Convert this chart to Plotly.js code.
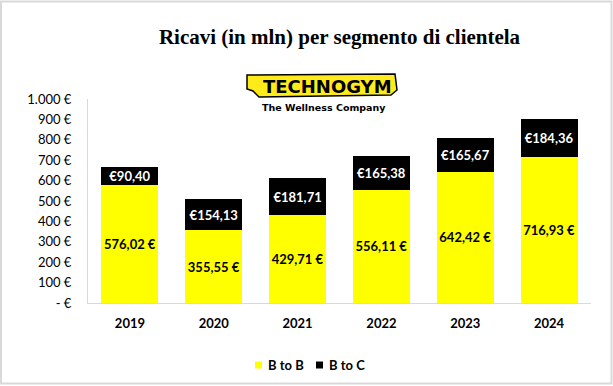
<!DOCTYPE html>
<html>
<head>
<meta charset="utf-8">
<script src="https://cdn.plot.ly/plotly-3.0.1.min.js"></script>
<style>
html,body{margin:0;padding:0;background:#fff;}
#chart{width:613px;height:386px;}
</style>
</head>
<body>
<div id="chart"></div>
<script>
const years = ['2019','2020','2021','2022','2023','2024'];
const btobValues = [576.02, 355.55, 429.71, 556.11, 642.42, 716.93];
const btocValues = [90.40, 154.13, 181.71, 165.38, 165.67, 184.36];
const btobLabels = ['576,02 €','355,55 €','429,71 €','556,11 €','642,42 €','716,93 €'];
const btocLabels = ['€90,40','€154,13','€181,71','€165,38','€165,67','€184,36'];
const seriesNames = ['B to B','B to C'];
const seriesColors = ['#FFFF00','#000000'];
const yTickVals = [0,100,200,300,400,500,600,700,800,900,1000];
const yTickText = ['- €','100 €','200 €','300 €','400 €','500 €','600 €','700 €','800 €','900 €','1.000 €'];

const FONT = 'Lato, "Open Sans", sans-serif';
const L = 88, R = 22, T = 99, B = 83, W = 613, H = 386;
const pw = W - L - R, ph = H - T - B;
const px = x => (x - L) / pw;
const py = y => (H - B - y) / ph;

const traces = [
  {type:'bar', name:seriesNames[0], x:years, y:btobValues, text:btobLabels,
   marker:{color:seriesColors[0]}, textposition:'inside', insidetextanchor:'middle',
   constraintext:'none', textangle:0,
   textfont:{family:FONT, size:13, color:'#000', weight:'bold'}, hoverinfo:'skip'},
  {type:'bar', name:seriesNames[1], x:years, y:btocValues, text:btocLabels,
   marker:{color:seriesColors[1]}, textposition:'inside', insidetextanchor:'middle',
   constraintext:'none', textangle:0,
   textfont:{family:FONT, size:13, color:'#fff', weight:'bold'}, hoverinfo:'skip'}
];

const logoPath = 'M ' + px(247) + ',' + py(75) +
  ' L ' + px(395) + ',' + py(74) +
  ' L ' + px(397) + ',' + py(90) +
  ' L ' + px(391) + ',' + py(95) +
  ' L ' + px(259) + ',' + py(97) +
  ' L ' + px(253) + ',' + py(91) +
  ' L ' + px(247) + ',' + py(89) + ' Z';

// manual legend (Excel-style compact spacing)
const legendX = [255, 316];
const legendY = 365;
const legendShapes = seriesNames.map((n, i) => ({
  type:'rect', xref:'paper', yref:'paper',
  x0:px(legendX[i]), x1:px(legendX[i] + 7), y0:py(legendY + 3.5), y1:py(legendY - 3.5),
  fillcolor:seriesColors[i], line:{width:0}
}));
const legendAnns = seriesNames.map((n, i) => ({
  text:n, xref:'paper', yref:'paper', x:px(legendX[i] + 11), y:py(legendY),
  xanchor:'left', yanchor:'middle', showarrow:false,
  font:{family:FONT, size:13, color:'#000', weight:'bold'}
}));

const layout = {
  width: W, height: H,
  margin: {l:L, r:R, t:T, b:B, pad:0},
  paper_bgcolor:'#fff', plot_bgcolor:'#fff',
  barmode:'stack', bargap:0.32,
  showlegend:false,
  title:{text:'Ricavi (in mln) per segmento di clientela',
    font:{family:'"Liberation Serif", "DejaVu Serif", serif', size:21, color:'#000', weight:'bold'},
    xref:'paper', x:0.5, xanchor:'center', yref:'container', y:1-37/H, yanchor:'middle'},
  xaxis:{type:'category', showline:true, linecolor:'#d9d9d9', linewidth:1,
    showgrid:false, zeroline:false, ticks:'', ticklabelstandoff:8,
    tickfont:{family:FONT, size:13, color:'#000', weight:'bold'}, fixedrange:true},
  yaxis:{range:[0,1000], tickvals:yTickVals, ticktext:yTickText,
    showline:true, linecolor:'#d9d9d9', linewidth:1,
    showgrid:false, zeroline:false, ticks:'', ticklabelstandoff:13,
    tickfont:{family:FONT, size:13, color:'#000'}, fixedrange:true},
  shapes:[
    {type:'rect', xref:'paper', yref:'paper', x0:px(1), x1:px(611.5), y0:py(383.5), y1:py(1.5),
     line:{color:'#d9d9d9', width:2}, fillcolor:'rgba(0,0,0,0)', layer:'below'},
    {type:'path', xref:'paper', yref:'paper', path:logoPath,
     fillcolor:'#FFEB1A', line:{color:'#000', width:1.5}}
  ].concat(legendShapes),
  annotations:[
    {text:'TECHNOGYM', xref:'paper', yref:'paper', x:px(327), y:py(86),
     xanchor:'center', yanchor:'middle', showarrow:false,
     font:{family:'"DejaVu Sans", sans-serif', size:18, color:'#000', weight:'bold'}},
    {text:'The Wellness Company', xref:'paper', yref:'paper', x:px(324), y:py(108),
     xanchor:'center', yanchor:'middle', showarrow:false,
     font:{family:'"DejaVu Sans", sans-serif', size:9.5, color:'#000', weight:'bold'}}
  ].concat(legendAnns)
};

Plotly.newPlot('chart', traces, layout, {staticPlot:true, displayModeBar:false});
</script>
</body>
</html>
